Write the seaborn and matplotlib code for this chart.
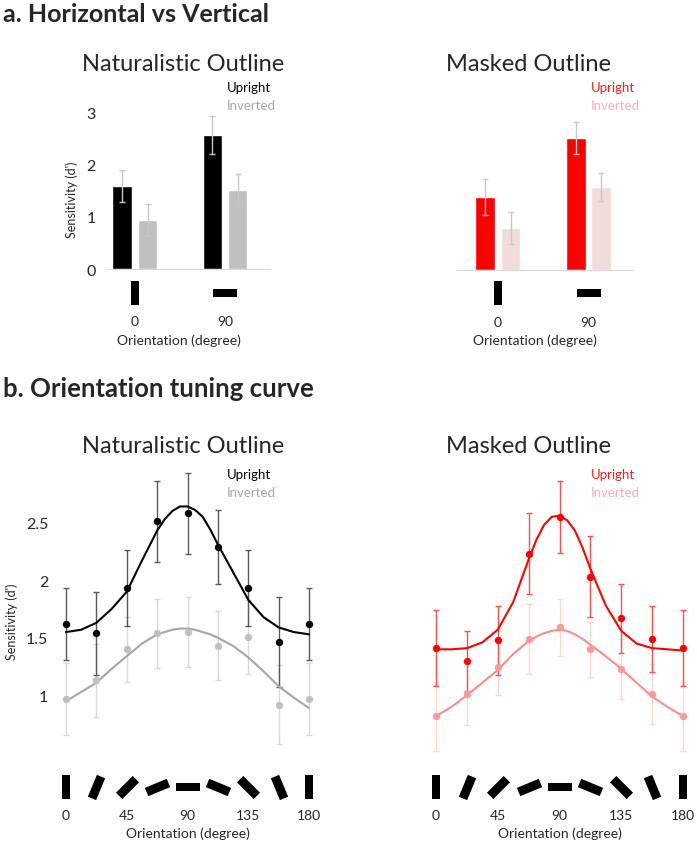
import numpy as np
import pandas as pd
import seaborn as sns
import matplotlib.pyplot as plt
from matplotlib.markers import MarkerStyle
from matplotlib.transforms import Affine2D, blended_transform_factory

W, H = 697, 845

# a. Horizontal vs Vertical: mean d' and SE per orientation
bar_orient = ['0', '90']
nat_up = [1.59, 2.56]
nat_up_se = [0.31, 0.36]
nat_inv = [0.94, 1.51]
nat_inv_se = [0.31, 0.31]
mask_up = [1.40, 2.52]
mask_up_se = [0.34, 0.30]
mask_inv = [0.80, 1.59]
mask_inv_se = [0.30, 0.27]

# b. Orientation tuning: measured points
angles = [0, 22.5, 45, 67.5, 90, 112.5, 135, 157.5, 180]
nat_up_pts = [1.62, 1.54, 1.93, 2.51, 2.58, 2.29, 1.93, 1.46, 1.62]
nat_up_err = [0.31, 0.36, 0.33, 0.35, 0.35, 0.32, 0.33, 0.39, 0.31]
nat_inv_pts = [0.97, 1.13, 1.40, 1.54, 1.55, 1.43, 1.51, 0.92, 0.97]
nat_inv_err = [0.31, 0.32, 0.28, 0.30, 0.30, 0.30, 0.32, 0.34, 0.31]
mask_up_pts = [1.41, 1.30, 1.48, 2.23, 2.55, 2.03, 1.67, 1.49, 1.41]
mask_up_err = [0.33, 0.26, 0.30, 0.35, 0.31, 0.35, 0.30, 0.29, 0.33]
mask_inv_pts = [0.82, 1.01, 1.25, 1.49, 1.59, 1.40, 1.23, 1.01, 0.82]
mask_inv_err = [0.30, 0.27, 0.25, 0.30, 0.25, 0.24, 0.26, 0.26, 0.30]

# fitted tuning curves
fit_angles = [0, 11.25, 22.5, 33.75, 45, 56.25, 67.5, 73.125, 78.75, 84.375, 90,
              95.625, 101.25, 106.875, 112.5, 123.75, 135, 146.25, 157.5, 168.75, 180]
nat_up_fit = [1.55, 1.57, 1.63, 1.75, 1.90, 2.17, 2.43, 2.53, 2.60, 2.64, 2.64,
              2.61, 2.55, 2.44, 2.31, 2.07, 1.83, 1.68, 1.59, 1.55, 1.53]
nat_inv_fit = [0.95, 1.03, 1.11, 1.23, 1.34, 1.45, 1.53, 1.55, 1.57, 1.58, 1.58,
               1.57, 1.55, 1.53, 1.50, 1.43, 1.33, 1.21, 1.08, 0.98, 0.89]
mask_up_fit = [1.40, 1.40, 1.41, 1.46, 1.57, 1.81, 2.18, 2.35, 2.48, 2.55, 2.56,
               2.52, 2.43, 2.28, 2.10, 1.78, 1.56, 1.45, 1.41, 1.40, 1.39]
mask_inv_fit = [0.82, 0.90, 1.00, 1.11, 1.22, 1.36, 1.47, 1.51, 1.54, 1.56, 1.57,
                1.56, 1.53, 1.49, 1.44, 1.34, 1.23, 1.11, 0.99, 0.90, 0.82]

sns.set_style('white')
plt.rcParams['font.family'] = ['Lato', 'DejaVu Sans']

fig = plt.figure(figsize=(W / 100, H / 100), dpi=100)


def px_box(l, t, r, b):
    return [l / W, 1 - b / H, (r - l) / W, (b - t) / H]


def fy(y):
    return 1 - y / H


bar_verts = [(-0.19, -0.5), (0.19, -0.5), (0.19, 0.5), (-0.19, 0.5), (-0.19, -0.5)]


def draw_icons(ax, xs, angs, y_px):
    # little oriented bars under the x axis
    trans = blended_transform_factory(ax.transData, fig.transFigure)
    for x, a in zip(xs, angs):
        m = MarkerStyle(bar_verts, transform=Affine2D().rotate_deg(-a))
        ax.scatter([x], [fy(y_px)], marker=m, s=290, color='black', linewidths=0,
                   transform=trans, clip_on=False)


def bar_panel(box, xlim, up, up_se, inv, inv_se, colors, show_y):
    ax = fig.add_axes(px_box(*box))
    df = pd.DataFrame({'orientation': bar_orient * 2,
                       'dprime': up + inv,
                       'face': ['Upright'] * 2 + ['Inverted'] * 2})
    sns.barplot(data=df, x='orientation', y='dprime', hue='face',
                palette={'Upright': colors[0], 'Inverted': colors[1]},
                width=0.56, gap=0.22, errorbar=None, legend=False,
                saturation=1, ax=ax)
    for cont, se in zip(ax.containers, [up_se, inv_se]):
        xs = [p.get_x() + p.get_width() / 2 for p in cont]
        ys = [p.get_height() for p in cont]
        ax.errorbar(xs, ys, yerr=se, fmt='none', ecolor='#c8c8c8',
                    elinewidth=1, capsize=2, capthick=1)
    draw_icons(ax, [0, 1], [0, 90], 294)
    ax.set_xlim(*xlim)
    ax.set_ylim(0, 3.2)
    sns.despine(ax=ax, left=True)
    ax.spines['bottom'].set_color('#d9d9d9')
    ax.set_yticks([0, 1, 2, 3])
    ax.tick_params(axis='y', length=0, pad=8, labelsize=11.5, labelleft=show_y)
    ax.tick_params(axis='x', length=0, pad=33, labelsize=10)
    ax.set_xlabel('Orientation (degree)', fontsize=10)
    ax.xaxis.set_label_coords(((box[0] + box[2]) / 2 - 10) / W, fy(334), transform=fig.transFigure)
    if show_y:
        ax.set_ylabel("Sensitivity (d')", fontsize=9)
        ax.yaxis.set_label_coords(78 / W, fy(200), transform=fig.transFigure)
    else:
        ax.set_ylabel('')
    return ax


def curve_panel(box, up, up_err, inv, inv_err, up_fit, inv_fit, cols, show_y):
    # cols: point, errorbar, curve colours for upright then inverted
    ax = fig.add_axes(px_box(*box))
    for pts, err, fit, c in [(inv, inv_err, inv_fit, cols[1]), (up, up_err, up_fit, cols[0])]:
        ax.errorbar(angles, pts, yerr=err, fmt='none', ecolor=c[1],
                    elinewidth=1, capsize=2.5, capthick=1, zorder=1)
        sns.lineplot(x=fit_angles, y=fit, color=c[2], lw=1.5, ax=ax, zorder=2)
        sns.scatterplot(x=angles, y=pts, color=c[0], s=28, linewidth=0, ax=ax, zorder=3)
    draw_icons(ax, angles, angles, 788)
    ax.set_xlim(-10, 190)
    ax.set_ylim(0.5, 3.0)
    sns.despine(ax=ax, left=True, bottom=True)
    ax.set_xticks([0, 45, 90, 135, 180])
    ax.set_yticks([1, 1.5, 2, 2.5])
    ax.set_yticklabels(['1', '1.5', '2', '2.5'])
    ax.tick_params(axis='y', length=0, pad=3, labelsize=11.5, labelleft=show_y)
    ax.tick_params(axis='x', length=0, pad=40, labelsize=10)
    ax.set_xlabel('Orientation (degree)', fontsize=10)
    ax.xaxis.set_label_coords((box[0] + box[2]) / 2 / W, fy(827), transform=fig.transFigure)
    if show_y:
        ax.set_ylabel("Sensitivity (d')", fontsize=9)
        ax.yaxis.set_label_coords(18 / W, fy(622), transform=fig.transFigure)
    return ax


# panel a
bar_panel((107, 102.6, 270, 270), (-0.31, 1.5), nat_up, nat_up_se, nat_inv, nat_inv_se,
          ('black', '#bfbfbf'), True)
bar_panel((457, 103.6, 633, 271), (-0.45, 1.49), mask_up, mask_up_se, mask_inv, mask_inv_se,
          ('#ff0000', '#f2dcdb'), False)

# panel b
curve_panel((52.5, 466, 322.5, 754), nat_up_pts, nat_up_err, nat_inv_pts, nat_inv_err,
            nat_up_fit, nat_inv_fit,
            [('black', '#595959', 'black'), ('#c0c0c0', '#d9d9d9', '#a6a6a6')], True)
curve_panel((422.3, 466, 696.7, 754), mask_up_pts, mask_up_err, mask_inv_pts, mask_inv_err,
            mask_up_fit, mask_inv_fit,
            [('#ff0000', '#ff4d4d', '#ff0000'), ('#ff9999', '#ffd6d6', '#ff8c8c')], False)

# headings, titles and legend texts
fig.text(3 / W, fy(22), 'a. Horizontal vs Vertical', fontsize=18, fontweight='bold', va='baseline')
fig.text(3 / W, fy(397), 'b. Orientation tuning curve', fontsize=18.5, fontweight='bold', va='baseline')
for y in (71, 453):
    fig.text(183 / W, fy(y), 'Naturalistic Outline', fontsize=17, ha='center', va='baseline')
    fig.text(528 / W, fy(y), 'Masked Outline', fontsize=17, ha='center', va='baseline')
for y in (88, 475):
    fig.text(227 / W, fy(y), 'Upright', fontsize=9.5, color='black', va='center')
    fig.text(227 / W, fy(y + 18), 'Inverted', fontsize=9.5, color='#a6a6a6', va='center')
    fig.text(591 / W, fy(y), 'Upright', fontsize=9.5, color='#ff1a1a', va='center')
    fig.text(591 / W, fy(y + 18), 'Inverted', fontsize=9.5, color='#ffadad', va='center')

fig.savefig('out.png', dpi=100)
